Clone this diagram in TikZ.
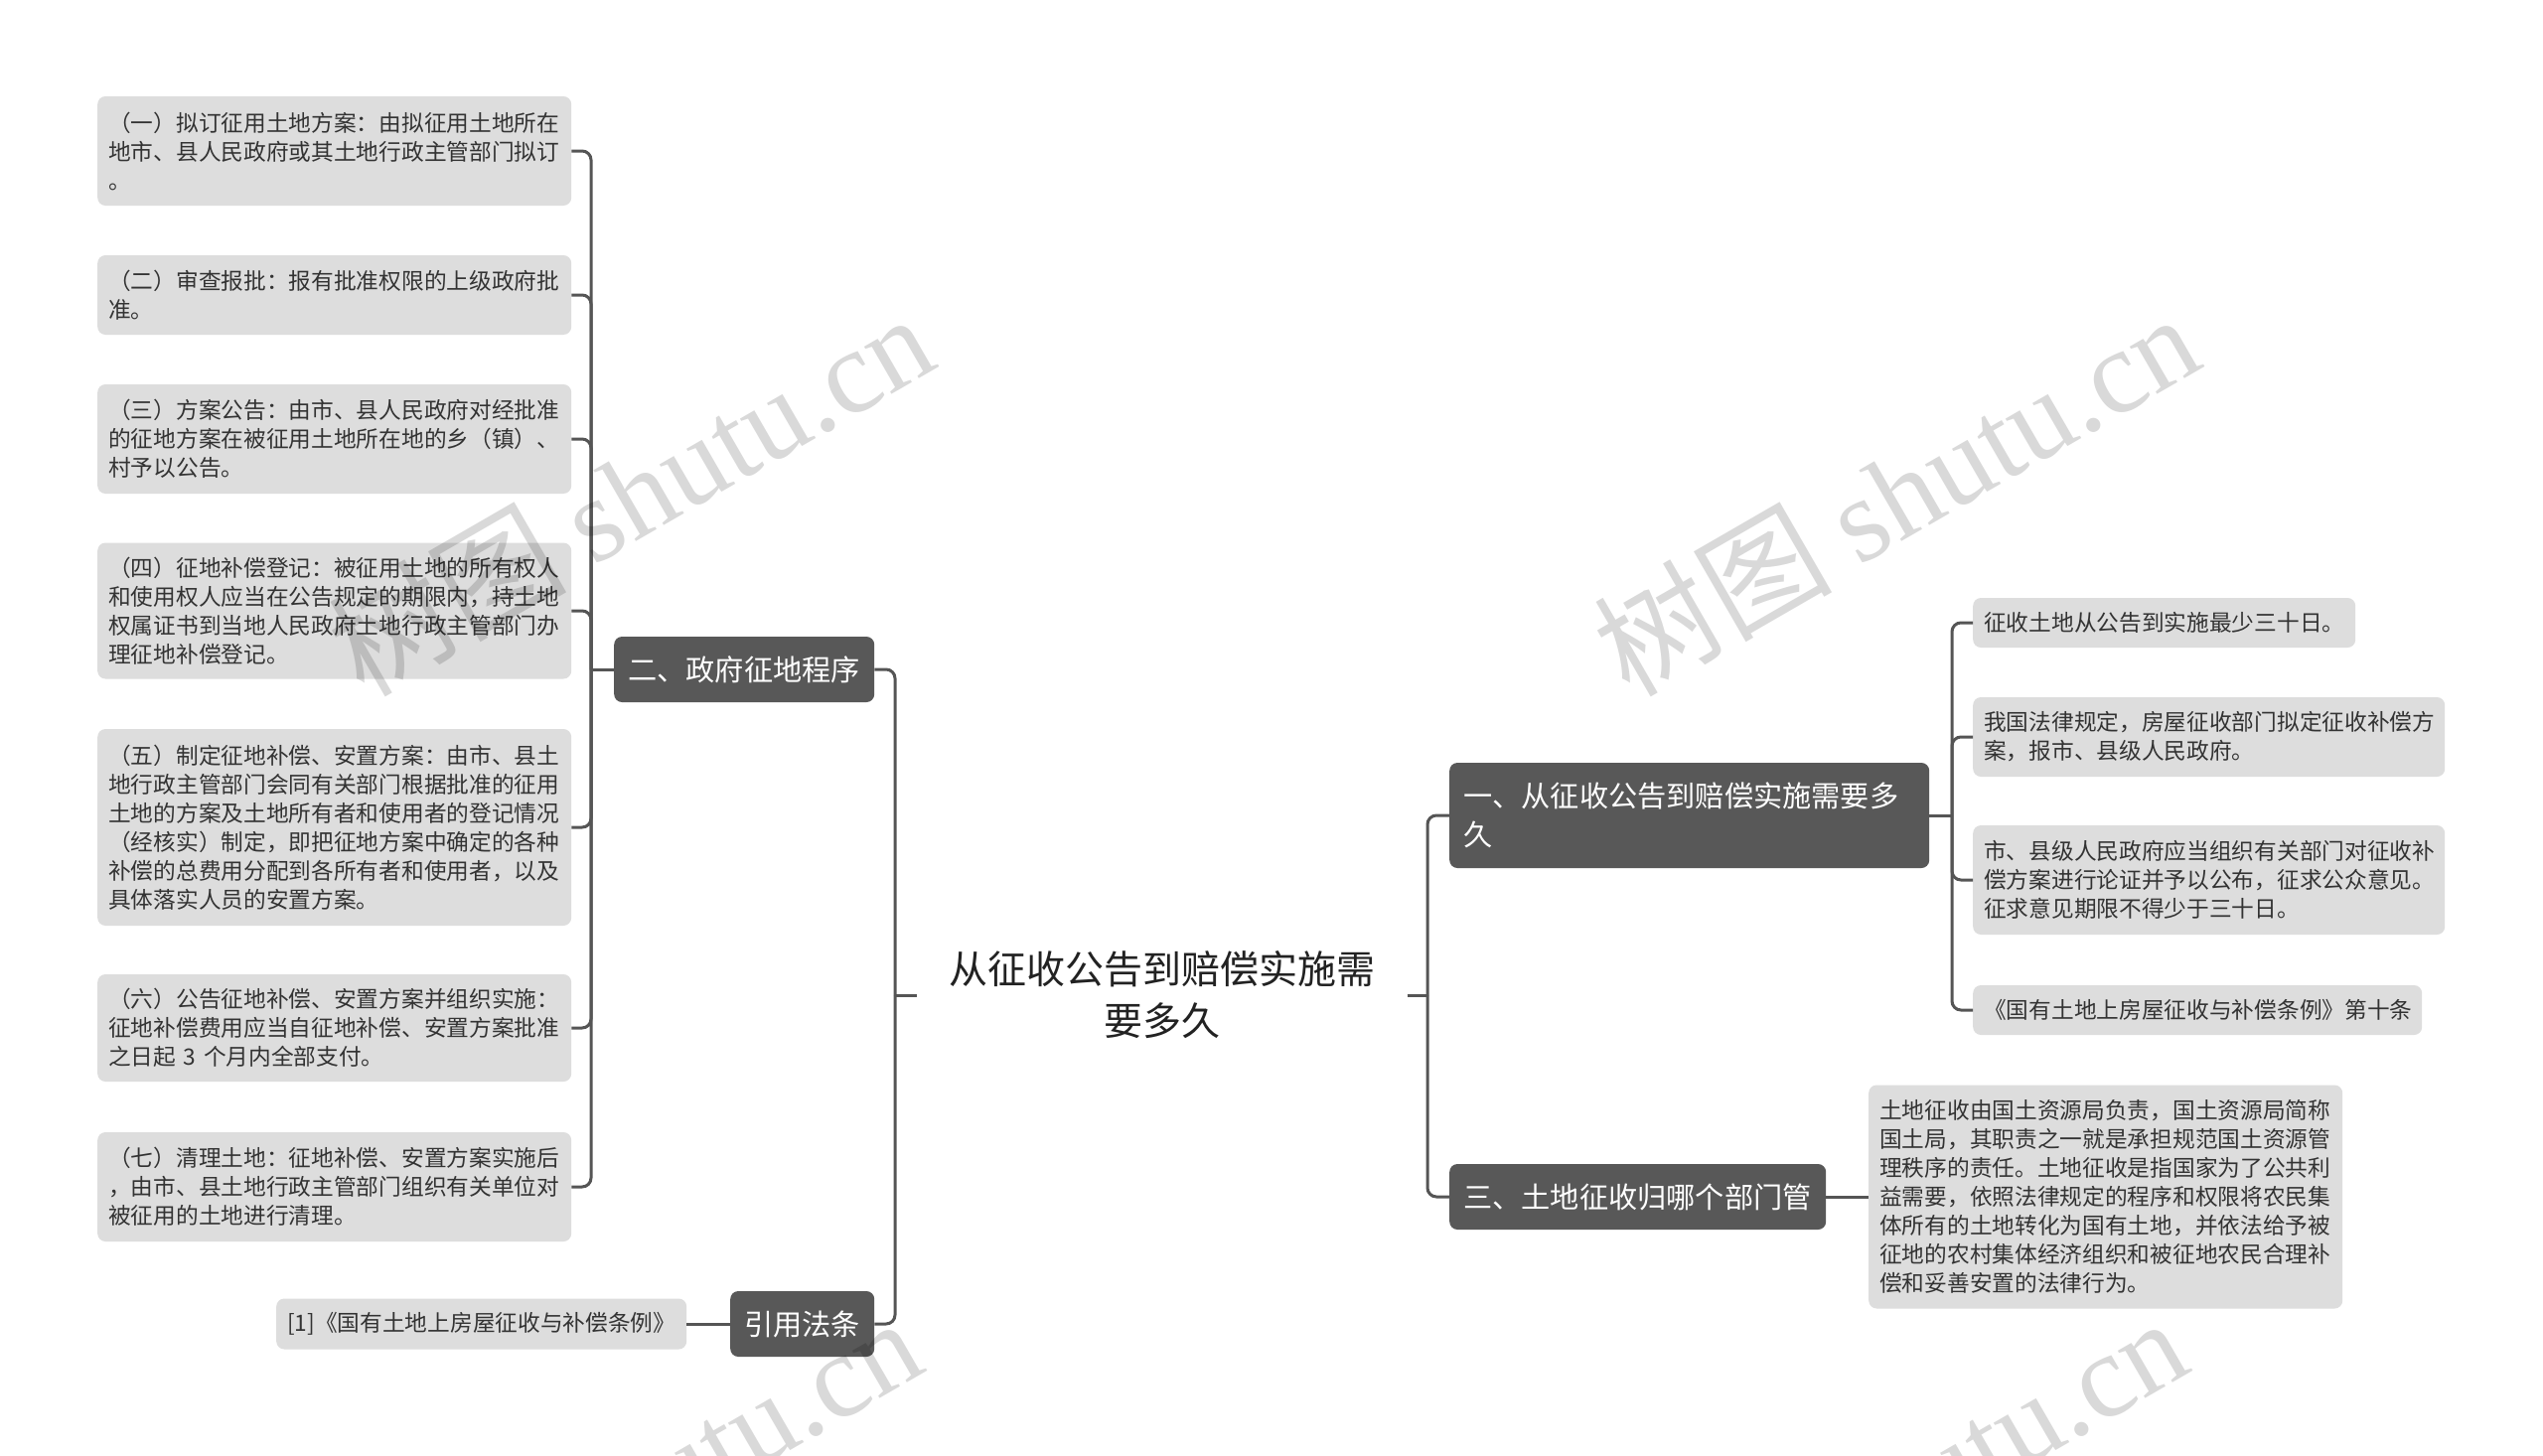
\documentclass[tikz,border=0pt]{standalone}
\usepackage{fontspec}
\setmainfont{Noto Sans CJK SC}
\newfontfamily\wmlatin{Liberation Serif}
\definecolor{leafgray}{HTML}{DDDDDD}
\definecolor{leaftext}{HTML}{333333}
\definecolor{branchgray}{HTML}{585858}
\definecolor{conncol}{HTML}{555555}
\definecolor{ctrtext}{HTML}{222222}
\newcommand\leaffont{\fontsize{22.7pt}{29pt}\selectfont}
\newcommand\brfont{\fontsize{29.2pt}{39pt}\selectfont}
\newcommand\ctrfont{\fontsize{39pt}{52pt}\selectfont}
\newcommand\wmfont{\fontsize{120pt}{120pt}\selectfont}
\begin{document}
\begin{tikzpicture}[x=1pt,y=-1pt,
  leaf/.style={fill=leafgray, rounded corners=8pt, text=leaftext, font=\leaffont, align=left, inner xsep=11pt, inner ysep=0pt, anchor=west},
  branch/.style={fill=branchgray, rounded corners=8pt, text=white, font=\brfont, align=left, inner xsep=14pt, inner ysep=0pt, anchor=west},
  ctr/.style={align=center, text width=432pt, minimum width=493pt, inner sep=0pt, font=\ctrfont, text=ctrtext},
  conn/.style={draw=conncol, line width=3pt, rounded corners=9pt},
  wm/.style={rotate=30, anchor=base, text=black, text opacity=0.15, font=\wmfont, inner sep=0pt}]
\useasboundingbox (0,0) rectangle (2560,1465);
\fill[white] (0,0) rectangle (2560,1465);

% root
\node[ctr] (root) at (1170,1002) {从征收公告到赔偿实施需\\要多久};

% branches
\node[branch, text width=234pt, minimum height=66pt] (b2) at (618,674) {二、政府征地程序};
\node[branch, text width=117pt, minimum height=66pt] (b4) at (735,1333) {引用法条};
\node[branch, text width=455pt, minimum height=106pt] (b1) at (1459,821) {一、从征收公告到赔偿实施需要多\\久};
\node[branch, text width=351pt, minimum height=66pt] (b3) at (1459,1205) {三、土地征收归哪个部门管};

% left leaves
\node[leaf, text width=455pt, minimum height=110pt] (l1) at (98,152) {（一）拟订征用土地方案：由拟征用土地所在\\地市、县人民政府或其土地行政主管部门拟订\\。};
\node[leaf, text width=455pt, minimum height=80pt] (l2) at (98,297) {（二）审查报批：报有批准权限的上级政府批\\准。};
\node[leaf, text width=455pt, minimum height=110pt] (l3) at (98,442) {（三）方案公告：由市、县人民政府对经批准\\的征地方案在被征用土地所在地的乡（镇）、\\村予以公告。};
\node[leaf, text width=455pt, minimum height=137pt] (l4) at (98,615) {（四）征地补偿登记：被征用土地的所有权人\\和使用权人应当在公告规定的期限内，持土地\\权属证书到当地人民政府土地行政主管部门办\\理征地补偿登记。};
\node[leaf, text width=455pt, minimum height=198pt] (l5) at (98,833) {（五）制定征地补偿、安置方案：由市、县土\\地行政主管部门会同有关部门根据批准的征用\\土地的方案及土地所有者和使用者的登记情况\\（经核实）制定，即把征地方案中确定的各种\\补偿的总费用分配到各所有者和使用者，以及\\具体落实人员的安置方案。};
\node[leaf, text width=455pt, minimum height=108pt] (l6) at (98,1035) {（六）公告征地补偿、安置方案并组织实施：\\征地补偿费用应当自征地补偿、安置方案批准\\之日起 3 个月内全部支付。};
\node[leaf, text width=455pt, minimum height=110pt] (l7) at (98,1195) {（七）清理土地：征地补偿、安置方案实施后\\，由市、县土地行政主管部门组织有关单位对\\被征用的土地进行清理。};
\node[leaf, text width=391pt, minimum height=51pt] (cite) at (278,1333) {[1]《国有土地上房屋征收与补偿条例》};

% right leaves
\node[leaf, text width=363pt, minimum height=50pt] (r1) at (1986,627) {征收土地从公告到实施最少三十日。};
\node[leaf, text width=453pt, minimum height=80pt] (r2) at (1986,742) {我国法律规定，房屋征收部门拟定征收补偿方\\案，报市、县级人民政府。};
\node[leaf, text width=453pt, minimum height=110pt] (r3) at (1986,886) {市、县级人民政府应当组织有关部门对征收补\\偿方案进行论证并予以公布，征求公众意见。\\征求意见期限不得少于三十日。};
\node[leaf, text width=430pt, minimum height=50pt] (r4) at (1986,1017) {《国有土地上房屋征收与补偿条例》第十条};
\node[leaf, text width=455pt, minimum height=225pt] (l8) at (1881,1205) {土地征收由国土资源局负责，国土资源局简称\\国土局，其职责之一就是承担规范国土资源管\\理秩序的责任。土地征收是指国家为了公共利\\益需要，依照法律规定的程序和权限将农民集\\体所有的土地转化为国有土地，并依法给予被\\征地的农村集体经济组织和被征地农民合理补\\偿和妥善安置的法律行为。};

% connectors
\coordinate (jc) at (901,1002);
\coordinate (jr) at (1437,1002);
\coordinate (jl) at (595,674);
\coordinate (j1) at (1965,821);
\draw[conn] (root.west) -- (jc);
\draw[conn] (b2.east) -| (jc);
\draw[conn] (b4.east) -| (jc);
\draw[conn] (root.east) -- (jr);
\draw[conn] (b1.west) -| (jr);
\draw[conn] (b3.west) -| (jr);
\draw[conn] (b2.west) -- (jl);
\foreach \n in {l1,l2,l3,l4,l5,l6,l7} \draw[conn] (\n.east) -| (jl);
\draw[conn] (b1.east) -- (j1);
\foreach \n in {r1,r2,r3,r4} \draw[conn] (\n.west) -| (j1);
\draw[conn] (b3.east) -- (l8.west);
\draw[conn] (cite.east) -- (b4.west);

% watermarks
\node[wm] (wm1) at (657,536) {树图 {\wmlatin shutu.cn}};
\node[wm] (wm2) at (1931,536) {树图 {\wmlatin shutu.cn}};
\node[wm] (wm3) at (645,1547) {树图 {\wmlatin shutu.cn}};
\node[wm] (wm4) at (1919,1547) {树图 {\wmlatin shutu.cn}};
\end{tikzpicture}
\end{document}
